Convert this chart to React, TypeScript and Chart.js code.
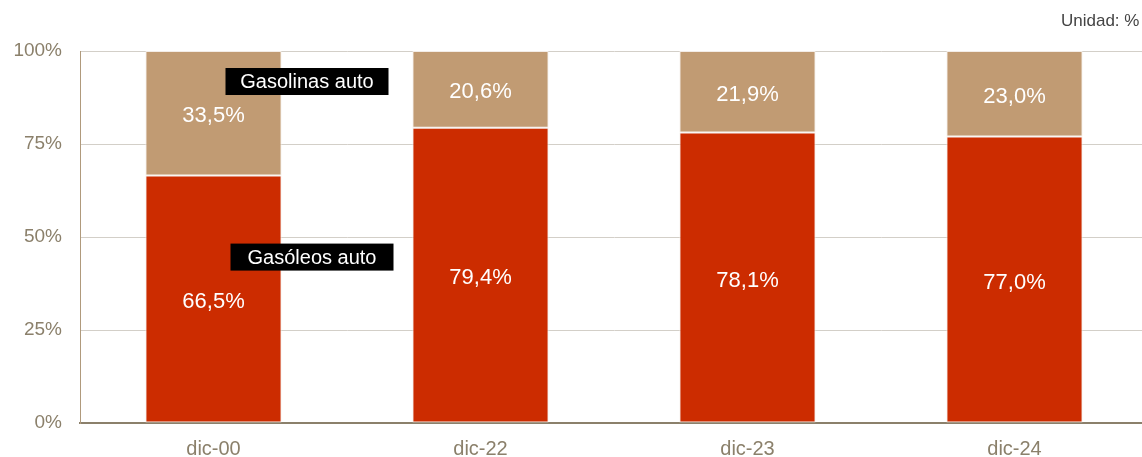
import React, { useEffect, useRef } from "react";
import { Chart, registerables } from "chart.js";

Chart.register(...registerables);

const categories = ["dic-00", "dic-22", "dic-23", "dic-24"];
const gasoleos = [66.5, 79.4, 78.1, 77.0];
const gasolinas = [33.5, 20.6, 21.9, 23.0];
const yTicks = [0, 25, 50, 75, 100];
const seriesNames = ["Gasóleos auto", "Gasolinas auto"];
const unitLabel = "Unidad: %";

const FONT = "'Liberation Sans', Arial, sans-serif";

const fmt = (v: number) => v.toFixed(1).replace(".", ",") + "%";

const overlayPlugin = {
  id: "overlay",
  afterDatasetsDraw(chart: any) {
    const ctx = chart.ctx;
    ctx.save();
    // value labels at segment centers
    chart.data.datasets.forEach((ds: any, di: number) => {
      const meta = chart.getDatasetMeta(di);
      meta.data.forEach((bar: any, i: number) => {
        const cy = (bar.y + bar.base) / 2;
        ctx.fillStyle = "#ffffff";
        ctx.font = `22px ${FONT}`;
        ctx.textAlign = "center";
        ctx.textBaseline = "middle";
        ctx.fillText(fmt(ds.data[i]), bar.x, cy + 3);
      });
    });
    // series annotation boxes on first category
    const x = chart.scales.x;
    const y = chart.scales.y;
    const c0 = x.getPixelForValue(0);
    const boxes = [
      { text: seriesNames[1], dx: 12, v: 91.8 },
      { text: seriesNames[0], dx: 17, v: 44.6 },
    ];
    boxes.forEach((b) => {
      const w = 163, h = 27;
      const left = c0 + b.dx;
      const cy = y.getPixelForValue(b.v);
      ctx.fillStyle = "#000000";
      ctx.fillRect(left, cy - h / 2, w, h);
      ctx.fillStyle = "#ffffff";
      ctx.font = `20px ${FONT}`;
      ctx.textAlign = "center";
      ctx.textBaseline = "middle";
      ctx.fillText(b.text, left + w / 2, cy + 1);
    });
    // unit label
    ctx.fillStyle = "#444444";
    ctx.font = `17px ${FONT}`;
    ctx.textAlign = "left";
    ctx.textBaseline = "middle";
    ctx.fillText(unitLabel, 1061, 21);
    ctx.restore();
  },
};

export default function App() {
  const ref = useRef<HTMLCanvasElement>(null);
  useEffect(() => {
    document.body.style.margin = "0";
    document.body.style.overflow = "hidden";
    const chart = new Chart(ref.current!, {
      type: "bar",
      data: {
        labels: categories,
        datasets: [
          {
            label: seriesNames[0],
            data: gasoleos,
            backgroundColor: "#cc2c00",
            borderColor: "#f3ece6",
            borderWidth: 1,
            borderSkipped: false,
          },
          {
            label: seriesNames[1],
            data: gasolinas,
            backgroundColor: "#c19b73",
            borderColor: "#f3ece6",
            borderWidth: 1,
            borderSkipped: false,
          },
        ],
      },
      options: {
        animation: false,
        responsive: false,
        maintainAspectRatio: false,
        layout: { padding: { top: 51, right: 2, left: 0, bottom: 0 } },
        plugins: {
          legend: { display: false },
          tooltip: { enabled: false },
          title: { display: false },
        },
        datasets: { bar: { categoryPercentage: 1, barPercentage: 0.51 } },
        scales: {
          x: {
            stacked: true,
            grid: { display: false },
            border: { color: "#8b806b", width: 2 },
            ticks: {
              color: "#8b806b",
              font: { family: FONT, size: 20 },
              padding: 6,
            },
            afterFit: (s: any) => {
              s.height = 34;
            },
          },
          y: {
            stacked: true,
            min: 0,
            max: 100,
            afterBuildTicks: (s: any) => {
              s.ticks = yTicks.map((v) => ({ value: v }));
            },
            grid: { color: "#d3cfc8", drawTicks: false, lineWidth: 1 },
            border: { color: "#b09a7c", width: 1 },
            ticks: {
              color: "#8b806b",
              font: { family: FONT, size: 19 },
              padding: 18,
              callback: (v: any) => v + "%",
            },
            afterFit: (s: any) => {
              s.width = 80;
            },
          },
        },
      },
      plugins: [overlayPlugin],
    });
    return () => chart.destroy();
  }, []);
  return (
    <div style={{ position: "fixed", left: 0, top: 0 }}>
      <canvas ref={ref} width={1150} height={457} style={{ width: 1150, height: 457 }} />
    </div>
  );
}
